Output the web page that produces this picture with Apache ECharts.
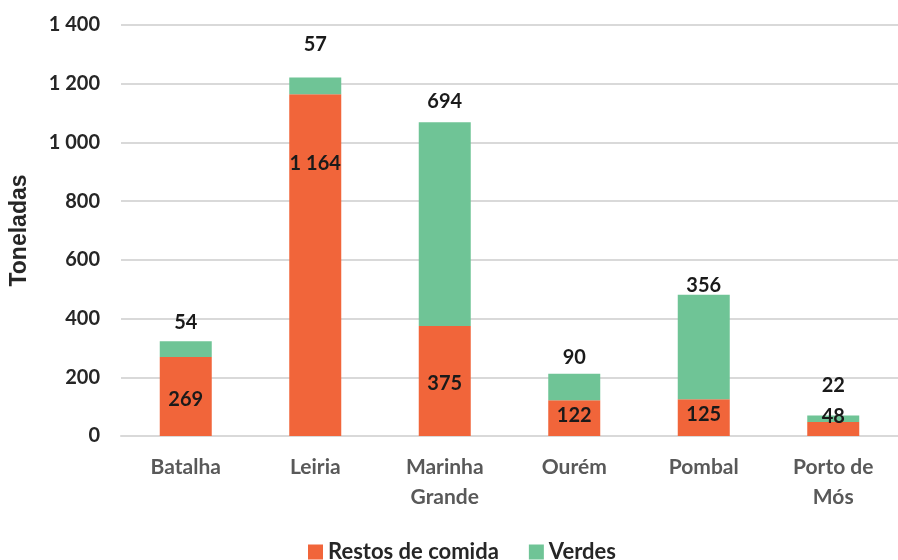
<!DOCTYPE html>
<html>
<head>
<meta charset="utf-8">
<script src="https://cdn.jsdelivr.net/npm/echarts@6/dist/echarts.min.js"></script>
<style>
  html, body { margin: 0; padding: 0; background: #fff; }
  #main { width: 898px; height: 560px; }
</style>
</head>
<body>
<div id="main"></div>
<script>
// dados
const concelhos = ['Batalha', 'Leiria', 'Marinha\nGrande', 'Ourém', 'Pombal', 'Porto de\nMós'];
const restosComida = [269, 1164, 375, 122, 125, 48];
const verdes = [54, 57, 694, 90, 356, 22];
const yTicks = [0, 200, 400, 600, 800, 1000, 1200, 1400];

// deslocamentos das etiquetas (só estilo)
const offRestos = [3, -102, 3, -3, -3, -12];
const offVerdes = [-4, -18, -6, -1, 6, -15];

const font = 'Lato, "Open Sans", sans-serif';

function fmt(v) {
  return String(v).replace(/\B(?=(\d{3})+(?!\d))/g, ' ');
}

const dom = document.getElementById('main');
const myChart = echarts.init(dom);

myChart.setOption({
  animation: false,
  textStyle: { fontFamily: font },
  grid: { left: 120, top: 25, width: 787, height: 411, containLabel: false },
  legend: {
    top: 536,
    left: 303,
    itemWidth: 15,
    itemHeight: 15,
    itemGap: 30,
    icon: 'rect',
    textStyle: { fontSize: 22, fontWeight: 'bold', color: '#262626', fontFamily: font },
    data: ['Restos de comida', 'Verdes']
  },
  xAxis: {
    type: 'category',
    data: concelhos,
    axisLine: { lineStyle: { color: '#d9d9d9', width: 2 } },
    axisTick: { show: false },
    axisLabel: {
      color: '#595959', fontSize: 21, fontWeight: 'bold', margin: 16,
      lineHeight: 30, fontFamily: font
    }
  },
  yAxis: {
    type: 'value',
    min: yTicks[0],
    max: yTicks[yTicks.length - 1],
    interval: 200,
    name: 'Toneladas',
    nameLocation: 'middle',
    nameGap: 90,
    nameTextStyle: {
      fontSize: 23, fontWeight: 'bold', color: '#262626',
      fontFamily: '"Liberation Sans", Arial, sans-serif'
    },
    axisLine: { show: false },
    axisTick: { show: false },
    splitLine: { lineStyle: { color: '#d9d9d9', width: 2 } },
    axisLabel: {
      color: '#262626', fontSize: 20, fontWeight: 'bold', margin: 21,
      fontFamily: font, formatter: fmt
    }
  },
  series: [
    {
      name: 'Restos de comida',
      type: 'bar',
      stack: 'total',
      barWidth: 52,
      itemStyle: { color: '#F1653A' },
      data: restosComida.map((v, i) => ({
        value: v,
        label: { offset: [0, offRestos[i]] }
      })),
      label: {
        show: true,
        position: 'inside',
        color: '#1a1a1a',
        fontSize: 20,
        fontWeight: 'bold',
        fontFamily: font,
        formatter: (p) => fmt(p.value)
      }
    },
    {
      name: 'Verdes',
      type: 'bar',
      stack: 'total',
      barWidth: 52,
      itemStyle: { color: '#6FC496' },
      data: verdes.map((v, i) => ({
        value: v,
        label: { offset: [0, offVerdes[i]] }
      })),
      label: {
        show: true,
        position: 'top',
        color: '#1a1a1a',
        fontSize: 20,
        fontWeight: 'bold',
        fontFamily: font,
        formatter: (p) => fmt(p.value)
      }
    }
  ]
});
</script>
</body>
</html>
